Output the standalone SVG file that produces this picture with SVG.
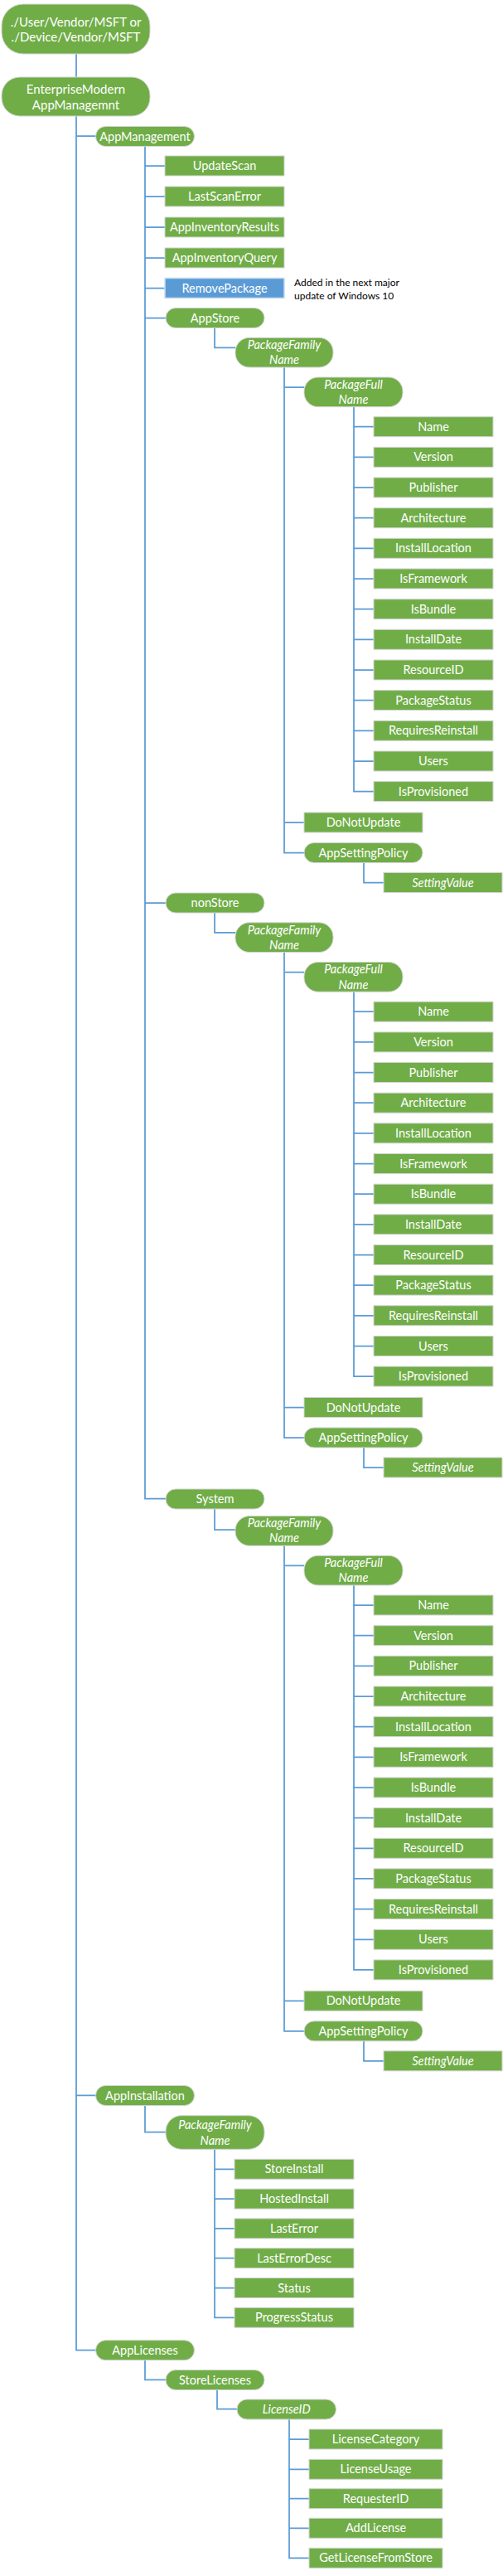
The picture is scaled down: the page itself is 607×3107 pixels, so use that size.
<svg xmlns="http://www.w3.org/2000/svg" width="607" height="3107" viewBox="0 0 607 3107">
<style>
.c{fill:none;stroke:#5B9BD5;stroke-width:1.75}
.g{fill:#70AD47;stroke:#D4D4D4;stroke-width:1}
.b{fill:#5B9BD5;stroke:#C9DDF2;stroke-width:1.5}
.t{font-family:Lato,"Open Sans",sans-serif;font-size:14.5px;fill:#FFFFFF;text-anchor:middle}
.r{font-size:15px}
.i{font-style:italic}
.n{font-family:Lato,"Open Sans",sans-serif;font-size:12px;fill:#000000}
</style>
<rect width="607" height="3107" fill="#FFFFFF"/>
<g id="connectors">
<path class="c" d="M92 65V93"/>
<path class="c" d="M92 140V2834.7H115.5M92 164H115.5M92 2527.4H115.5"/>
<path class="c" d="M175 176V1807.7H200M175 200H199M175 237H199M175 274H199M175 311H199M175 347.5H199M175 383.5H200M175 1089H200"/>
<path class="c" d="M259 395.5V419.3H284"/>
<path class="c" d="M343 443V1028.5H367M343 467H367M343 992H367"/>
<path class="c" d="M427 490.7V954.6H451M427 514.7H451M427 551.4H451M427 588H451M427 624.7H451M427 661.3H451M427 698H451M427 734.7H451M427 771.3H451M427 808H451M427 844.6H451M427 881.3H451M427 918H451"/>
<path class="c" d="M439 1040.5V1064.5H463"/>
<path class="c" d="M259 1101V1124.8H284"/>
<path class="c" d="M343 1148.5V1734H367M343 1172.5H367M343 1697.5H367"/>
<path class="c" d="M427 1196.2V1660.1H451M427 1220.2H451M427 1256.9H451M427 1293.5H451M427 1330.2H451M427 1366.8H451M427 1403.5H451M427 1440.2H451M427 1476.8H451M427 1513.5H451M427 1550.1H451M427 1586.8H451M427 1623.5H451"/>
<path class="c" d="M439 1746V1770H463"/>
<path class="c" d="M259 1819.5V1845H284"/>
<path class="c" d="M343 1864.3V2449.8H367M343 1888.3H367M343 2413.3H367"/>
<path class="c" d="M427 1912V2375.9H451M427 1936H451M427 1972.7H451M427 2009.3H451M427 2046H451M427 2082.6H451M427 2119.3H451M427 2156H451M427 2192.6H451M427 2229.3H451M427 2265.9H451M427 2302.6H451M427 2339.3H451"/>
<path class="c" d="M439 2461.8V2485.8H463"/>
<path class="c" d="M175 2539.2V2571.7H200"/>
<path class="c" d="M259 2592.3V2795.3H283M259 2616.3H283M259 2652.1H283M259 2687.9H283M259 2723.7H283M259 2759.5H283"/>
<path class="c" d="M175 2846.7V2870.3H200"/>
<path class="c" d="M262 2882.2V2905.7H286"/>
<path class="c" d="M349 2917.7V3085.3H373M349 2942H373M349 2978.3H373M349 3013.7H373M349 3049.3H373"/>
</g>

<g id="root"><rect class="g" x="2" y="5" width="179" height="60" rx="26"/><text class="t r" x="91.5" y="31.5">./User/Vendor/MSFT or</text><text class="t r" x="91.5" y="50">./Device/Vendor/MSFT</text></g>
<g id="enterprise"><rect class="g" x="2" y="93" width="179" height="47" rx="22"/><text class="t r" x="91.5" y="113">EnterpriseModern</text><text class="t r" x="91.5" y="132">AppManagemnt</text></g>
<g id="appmanagement"><rect class="g" x="115.5" y="152.5" width="119" height="24" rx="12"/><text class="t" x="175" y="169.5">AppManagement</text></g>
<g id="updatescan"><rect class="g" x="199" y="188" width="144" height="24"/><text class="t" x="271" y="205">UpdateScan</text></g>
<g id="lastscanerror"><rect class="g" x="199" y="225" width="144" height="24"/><text class="t" x="271" y="242">LastScanError</text></g>
<g id="appinventoryresults"><rect class="g" x="199" y="262" width="144" height="24"/><text class="t" x="271" y="279">AppInventoryResults</text></g>
<g id="appinventoryquery"><rect class="g" x="199" y="299" width="144" height="24"/><text class="t" x="271" y="316">AppInventoryQuery</text></g>
<g id="removepackage"><rect class="b" x="199" y="335.5" width="144" height="24"/><text class="t" x="271" y="352.5">RemovePackage</text></g>
<g id="note"><text class="n" x="355" y="345">Added in the next major</text><text class="n" x="355" y="361">update of Windows 10</text></g>

<g id="appstore"><rect class="g" x="200" y="371.5" width="119" height="24" rx="12"/><text class="t" x="259.5" y="388.5">AppStore</text></g>
<g id="appstore-pfn"><rect class="g" x="284" y="407.3" width="118" height="35.7" rx="17"/><text class="t i" x="343" y="421">PackageFamily</text><text class="t i" x="343" y="439">Name</text></g>
<g id="appstore-pfull"><rect class="g" x="367" y="455" width="119" height="35.7" rx="17"/><text class="t i" x="426.5" y="468.5">PackageFull</text><text class="t i" x="426.5" y="487">Name</text></g>
<g id="appstore-name"><rect class="g" x="451" y="502.7" width="144" height="24"/><text class="t" x="523" y="519.7">Name</text></g>
<g id="appstore-version"><rect class="g" x="451" y="539.4" width="144" height="24"/><text class="t" x="523" y="556.4">Version</text></g>
<g id="appstore-publisher"><rect class="g" x="451" y="576" width="144" height="24"/><text class="t" x="523" y="593">Publisher</text></g>
<g id="appstore-architecture"><rect class="g" x="451" y="612.7" width="144" height="24"/><text class="t" x="523" y="629.7">Architecture</text></g>
<g id="appstore-installlocation"><rect class="g" x="451" y="649.3" width="144" height="24"/><text class="t" x="523" y="666.3">InstallLocation</text></g>
<g id="appstore-isframework"><rect class="g" x="451" y="686" width="144" height="24"/><text class="t" x="523" y="703">IsFramework</text></g>
<g id="appstore-isbundle"><rect class="g" x="451" y="722.7" width="144" height="24"/><text class="t" x="523" y="739.7">IsBundle</text></g>
<g id="appstore-installdate"><rect class="g" x="451" y="759.3" width="144" height="24"/><text class="t" x="523" y="776.3">InstallDate</text></g>
<g id="appstore-resourceid"><rect class="g" x="451" y="796" width="144" height="24"/><text class="t" x="523" y="813">ResourceID</text></g>
<g id="appstore-packagestatus"><rect class="g" x="451" y="832.6" width="144" height="24"/><text class="t" x="523" y="849.6">PackageStatus</text></g>
<g id="appstore-requiresreinstall"><rect class="g" x="451" y="869.3" width="144" height="24"/><text class="t" x="523" y="886.3">RequiresReinstall</text></g>
<g id="appstore-users"><rect class="g" x="451" y="906" width="144" height="24"/><text class="t" x="523" y="923">Users</text></g>
<g id="appstore-isprovisioned"><rect class="g" x="451" y="942.6" width="144" height="24"/><text class="t" x="523" y="959.6">IsProvisioned</text></g>
<g id="appstore-donotupdate"><rect class="g" x="367" y="980" width="143" height="24"/><text class="t" x="438.5" y="997">DoNotUpdate</text></g>
<g id="appstore-appsettingpolicy"><rect class="g" x="367" y="1016.5" width="143" height="24" rx="12"/><text class="t" x="438.5" y="1033.5">AppSettingPolicy</text></g>
<g id="appstore-settingvalue"><rect class="g" x="463" y="1052.5" width="143" height="24"/><text class="t i" x="534.5" y="1069.5">SettingValue</text></g>

<g id="nonstore"><rect class="g" x="200" y="1077" width="119" height="24" rx="12"/><text class="t" x="259.5" y="1094">nonStore</text></g>
<g id="nonstore-pfn"><rect class="g" x="284" y="1112.8" width="118" height="35.7" rx="17"/><text class="t i" x="343" y="1126.5">PackageFamily</text><text class="t i" x="343" y="1144.5">Name</text></g>
<g id="nonstore-pfull"><rect class="g" x="367" y="1160.5" width="119" height="35.7" rx="17"/><text class="t i" x="426.5" y="1174">PackageFull</text><text class="t i" x="426.5" y="1192.5">Name</text></g>
<g id="nonstore-name"><rect class="g" x="451" y="1208.2" width="144" height="24"/><text class="t" x="523" y="1225.2">Name</text></g>
<g id="nonstore-version"><rect class="g" x="451" y="1244.9" width="144" height="24"/><text class="t" x="523" y="1261.9">Version</text></g>
<g id="nonstore-publisher"><rect class="g" x="451" y="1281.5" width="144" height="24"/><text class="t" x="523" y="1298.5">Publisher</text></g>
<g id="nonstore-architecture"><rect class="g" x="451" y="1318.2" width="144" height="24"/><text class="t" x="523" y="1335.2">Architecture</text></g>
<g id="nonstore-installlocation"><rect class="g" x="451" y="1354.8" width="144" height="24"/><text class="t" x="523" y="1371.8">InstallLocation</text></g>
<g id="nonstore-isframework"><rect class="g" x="451" y="1391.5" width="144" height="24"/><text class="t" x="523" y="1408.5">IsFramework</text></g>
<g id="nonstore-isbundle"><rect class="g" x="451" y="1428.2" width="144" height="24"/><text class="t" x="523" y="1445.2">IsBundle</text></g>
<g id="nonstore-installdate"><rect class="g" x="451" y="1464.8" width="144" height="24"/><text class="t" x="523" y="1481.8">InstallDate</text></g>
<g id="nonstore-resourceid"><rect class="g" x="451" y="1501.5" width="144" height="24"/><text class="t" x="523" y="1518.5">ResourceID</text></g>
<g id="nonstore-packagestatus"><rect class="g" x="451" y="1538.1" width="144" height="24"/><text class="t" x="523" y="1555.1">PackageStatus</text></g>
<g id="nonstore-requiresreinstall"><rect class="g" x="451" y="1574.8" width="144" height="24"/><text class="t" x="523" y="1591.8">RequiresReinstall</text></g>
<g id="nonstore-users"><rect class="g" x="451" y="1611.5" width="144" height="24"/><text class="t" x="523" y="1628.5">Users</text></g>
<g id="nonstore-isprovisioned"><rect class="g" x="451" y="1648.1" width="144" height="24"/><text class="t" x="523" y="1665.1">IsProvisioned</text></g>
<g id="nonstore-donotupdate"><rect class="g" x="367" y="1685.5" width="143" height="24"/><text class="t" x="438.5" y="1702.5">DoNotUpdate</text></g>
<g id="nonstore-appsettingpolicy"><rect class="g" x="367" y="1722" width="143" height="24" rx="12"/><text class="t" x="438.5" y="1739">AppSettingPolicy</text></g>
<g id="nonstore-settingvalue"><rect class="g" x="463" y="1758" width="143" height="24"/><text class="t i" x="534.5" y="1775">SettingValue</text></g>

<g id="system"><rect class="g" x="200" y="1796" width="119" height="24" rx="12"/><text class="t" x="259.5" y="1813">System</text></g>
<g id="system-pfn"><rect class="g" x="284" y="1828.6" width="118" height="35.7" rx="17"/><text class="t i" x="343" y="1842.3">PackageFamily</text><text class="t i" x="343" y="1860.3">Name</text></g>
<g id="system-pfull"><rect class="g" x="367" y="1876.3" width="119" height="35.7" rx="17"/><text class="t i" x="426.5" y="1889.8">PackageFull</text><text class="t i" x="426.5" y="1908.3">Name</text></g>
<g id="system-name"><rect class="g" x="451" y="1924" width="144" height="24"/><text class="t" x="523" y="1941">Name</text></g>
<g id="system-version"><rect class="g" x="451" y="1960.7" width="144" height="24"/><text class="t" x="523" y="1977.7">Version</text></g>
<g id="system-publisher"><rect class="g" x="451" y="1997.3" width="144" height="24"/><text class="t" x="523" y="2014.3">Publisher</text></g>
<g id="system-architecture"><rect class="g" x="451" y="2034" width="144" height="24"/><text class="t" x="523" y="2051">Architecture</text></g>
<g id="system-installlocation"><rect class="g" x="451" y="2070.6" width="144" height="24"/><text class="t" x="523" y="2087.6">InstallLocation</text></g>
<g id="system-isframework"><rect class="g" x="451" y="2107.3" width="144" height="24"/><text class="t" x="523" y="2124.3">IsFramework</text></g>
<g id="system-isbundle"><rect class="g" x="451" y="2144" width="144" height="24"/><text class="t" x="523" y="2161">IsBundle</text></g>
<g id="system-installdate"><rect class="g" x="451" y="2180.6" width="144" height="24"/><text class="t" x="523" y="2197.6">InstallDate</text></g>
<g id="system-resourceid"><rect class="g" x="451" y="2217.3" width="144" height="24"/><text class="t" x="523" y="2234.3">ResourceID</text></g>
<g id="system-packagestatus"><rect class="g" x="451" y="2253.9" width="144" height="24"/><text class="t" x="523" y="2270.9">PackageStatus</text></g>
<g id="system-requiresreinstall"><rect class="g" x="451" y="2290.6" width="144" height="24"/><text class="t" x="523" y="2307.6">RequiresReinstall</text></g>
<g id="system-users"><rect class="g" x="451" y="2327.3" width="144" height="24"/><text class="t" x="523" y="2344.3">Users</text></g>
<g id="system-isprovisioned"><rect class="g" x="451" y="2363.9" width="144" height="24"/><text class="t" x="523" y="2380.9">IsProvisioned</text></g>
<g id="system-donotupdate"><rect class="g" x="367" y="2401.3" width="143" height="24"/><text class="t" x="438.5" y="2418.3">DoNotUpdate</text></g>
<g id="system-appsettingpolicy"><rect class="g" x="367" y="2437.8" width="143" height="24" rx="12"/><text class="t" x="438.5" y="2454.8">AppSettingPolicy</text></g>
<g id="system-settingvalue"><rect class="g" x="463" y="2473.8" width="143" height="24"/><text class="t i" x="534.5" y="2490.8">SettingValue</text></g>

<g id="appinstallation"><rect class="g" x="115.5" y="2515.5" width="119" height="24" rx="12"/><text class="t" x="175" y="2532.5">AppInstallation</text></g>
<g id="appinstallation-pfn"><rect class="g" x="200" y="2551.7" width="119" height="40.6" rx="19"/><text class="t i" x="259.5" y="2568">PackageFamily</text><text class="t i" x="259.5" y="2586.5">Name</text></g>
<g id="storeinstall"><rect class="g" x="283" y="2604.3" width="144" height="24"/><text class="t" x="355" y="2621.3">StoreInstall</text></g>
<g id="hostedinstall"><rect class="g" x="283" y="2640.1" width="144" height="24"/><text class="t" x="355" y="2657.1">HostedInstall</text></g>
<g id="lasterror"><rect class="g" x="283" y="2675.9" width="144" height="24"/><text class="t" x="355" y="2692.9">LastError</text></g>
<g id="lasterrordesc"><rect class="g" x="283" y="2711.7" width="144" height="24"/><text class="t" x="355" y="2728.7">LastErrorDesc</text></g>
<g id="status"><rect class="g" x="283" y="2747.5" width="144" height="24"/><text class="t" x="355" y="2764.5">Status</text></g>
<g id="progressstatus"><rect class="g" x="283" y="2783.3" width="144" height="24"/><text class="t" x="355" y="2800.3">ProgressStatus</text></g>

<g id="applicenses"><rect class="g" x="115.5" y="2822.7" width="119" height="24" rx="12"/><text class="t" x="175" y="2839.7">AppLicenses</text></g>
<g id="storelicenses"><rect class="g" x="200" y="2858.5" width="119" height="24" rx="12"/><text class="t" x="259.5" y="2875.5">StoreLicenses</text></g>
<g id="licenseid"><rect class="g" x="286" y="2894" width="119.5" height="24" rx="12"/><text class="t i" x="345.7" y="2911">LicenseID</text></g>
<g id="licensecategory"><rect class="g" x="373" y="2930" width="161" height="24"/><text class="t" x="453.5" y="2947">LicenseCategory</text></g>
<g id="licenseusage"><rect class="g" x="373" y="2966.3" width="161" height="24"/><text class="t" x="453.5" y="2983.3">LicenseUsage</text></g>
<g id="requesterid"><rect class="g" x="373" y="3001.7" width="161" height="24"/><text class="t" x="453.5" y="3018.7">RequesterID</text></g>
<g id="addlicense"><rect class="g" x="373" y="3037.3" width="161" height="24"/><text class="t" x="453.5" y="3054.3">AddLicense</text></g>
<g id="getlicensefromstore"><rect class="g" x="373" y="3073.3" width="161" height="24"/><text class="t" x="453.5" y="3090.3">GetLicenseFromStore</text></g>
</svg>
